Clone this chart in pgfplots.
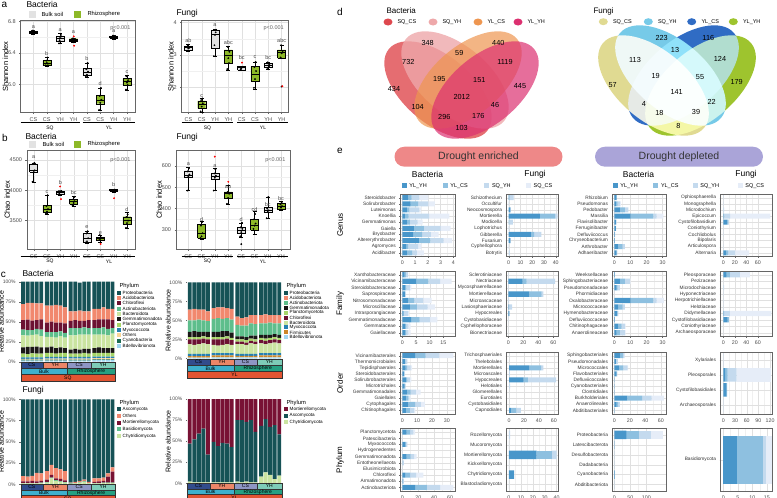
\documentclass[border=0pt]{standalone}
\usepackage{fontspec}
\setmainfont{Liberation Sans}
\usepackage{pgfplots}
\usepackage{pgfplotstable}
\pgfplotsset{compat=1.18}

\definecolor{bulk}{RGB}{226,226,226}
\definecolor{rhizo}{RGB}{141,184,40}
\definecolor{pProt}{RGB}{22,82,86}
\definecolor{pAcid}{RGB}{241,136,110}
\definecolor{pChlo}{RGB}{108,18,50}
\definecolor{pActi}{RGB}{94,190,140}
\definecolor{pBact}{RGB}{202,228,160}
\definecolor{pGemm}{RGB}{26,22,22}
\definecolor{pPlan}{RGB}{166,212,104}
\definecolor{pMyxo}{RGB}{38,128,178}
\definecolor{pOthe}{RGB}{250,214,150}
\definecolor{pCyan}{RGB}{28,108,82}
\definecolor{pBdel}{RGB}{160,214,240}
\definecolor{pFirm}{RGB}{204,134,40}
\definecolor{pMort}{RGB}{120,18,52}
\definecolor{gCS}{RGB}{50,76,140}
\definecolor{gYH}{RGB}{236,134,104}
\definecolor{gCSr}{RGB}{142,150,196}
\definecolor{gYHr}{RGB}{126,204,184}
\definecolor{gBulk}{RGB}{62,176,204}
\definecolor{gRhiz}{RGB}{38,160,130}
\definecolor{gSite}{RGB}{226,84,50}
\definecolor{vSC}{RGB}{222,72,78}
\definecolor{vSY}{RGB}{238,168,170}
\definecolor{vYC}{RGB}{238,150,80}
\definecolor{vYY}{RGB}{220,48,112}
\definecolor{fSC}{RGB}{224,218,146}
\definecolor{fSY}{RGB}{118,202,232}
\definecolor{fYC}{RGB}{48,108,196}
\definecolor{fYY}{RGB}{158,196,46}
\definecolor{eYY}{RGB}{72,150,202}
\definecolor{eYC}{RGB}{142,192,224}
\definecolor{eSY}{RGB}{196,218,238}
\definecolor{eSC}{RGB}{230,237,248}
\definecolor{pillE}{RGB}{238,136,136}
\definecolor{pillD}{RGB}{170,164,216}

\newcommand{\fs}[1]{\fontsize{#1}{#1}\selectfont}

\pgfplotsset{
  /pgf/number format/assume math mode=true,
  boxax/.style={scale only axis, clip=false,
    xtick={1,...,8}, xticklabels={CS,CS,YH,YH,CS,CS,YH,YH},
    tick label style={font=\fs{5.5}, text=black!70},
    ylabel style={font=\fs{7.5}}, ylabel shift=-7pt,
    grid=both, major grid style={black!12,line width=0.3pt},
    minor grid style={black!6,line width=0.2pt},
    minor y tick num=1,
    axis line style={black!60,line width=0.5pt},
    tick style={black!60,line width=0.3pt},
    tick align=outside, major tick length=1.5pt, minor tick length=0pt,
    xtick pos=bottom, ytick pos=left},
  cax/.style={scale only axis, ybar stacked, bar width=0.86,
    xmin=0.45, xmax=21.3, ymin=0, ymax=100, xtick=\empty,
    ytick={0,25,50,75,100}, yticklabels={0\%,25\%,50\%,75\%,100\%},
    tick label style={font=\fs{5}, text=black!70},
    ylabel style={font=\fs{7}}, ylabel shift=-8pt,
    axis line style={draw=none}, ytick pos=left,
    tick style={black!60,line width=0.3pt}, tick align=outside, major tick length=1.5pt},
  eax/.style={scale only axis, xbar stacked, bar width=0.82, y dir=reverse,
    ymin=0.4, ymax=10.6, ytick={1,...,10},
    xticklabel style={font=\fs{5.3}, text=black!70},
    yticklabel style={font=\fs{4.8}, text=black!80},
    grid=both, major grid style={black!12,line width=0.3pt},
    minor grid style={black!6,line width=0.2pt},
    minor x tick num=1,
    axis line style={black!60,line width=0.5pt},
    tick style={black!60,line width=0.3pt},
    tick align=outside, major tick length=1.2pt, minor tick length=0pt,
    xtick pos=bottom, ytick pos=left},
}

% box: position, lower whisker, lower quartile, median, upper quartile, upper whisker, colour
\newcommand{\bx}[7]{%
  \pgfmathsetmacro\bxl{#1-0.3}\pgfmathsetmacro\bxr{#1+0.3}%
  \pgfmathsetmacro\wxl{#1-0.15}\pgfmathsetmacro\wxr{#1+0.15}%
  \addplot[draw=black, line width=0.35pt] coordinates {(#1,#2) (#1,#3)};
  \addplot[draw=black, line width=0.35pt] coordinates {(#1,#5) (#1,#6)};
  \addplot[draw=black, line width=0.35pt] coordinates {(\wxl,#2) (\wxr,#2)};
  \addplot[draw=black, line width=0.35pt] coordinates {(\wxl,#6) (\wxr,#6)};
  \addplot[fill=#7, draw=black, line width=0.35pt] coordinates
    {(\bxl,#3) (\bxr,#3) (\bxr,#5) (\bxl,#5) (\bxl,#3)};
  \addplot[draw=black, line width=0.8pt] coordinates {(\bxl,#4) (\bxr,#4)};}
\newcommand{\pts}[2][black]{\addplot[only marks, mark=*, mark size=0.7pt, #1] coordinates {#2};}
\newcommand{\lt}[3]{\node[font=\fs{5.5}, text=black!70] at (axis cs:#1,#2) {#3};}
\newcommand{\ebars}[1]{%
  \addplot[fill=eYY,draw=none] table[x=a,y=y]{#1};
  \addplot[fill=eYC,draw=none] table[x=b,y=y]{#1};
  \addplot[fill=eSY,draw=none] table[x=c,y=y]{#1};
  \addplot[fill=eSC,draw=none] table[x=d,y=y]{#1};}
% facet strip: x1, x2, y1, y2, colour, text
\newcommand{\grp}[6]{\fill[#5] (#1,-#3) rectangle (#2,-#4);
  \draw[black!80,line width=0.3pt] (#1,-#3) rectangle (#2,-#4);
  \node[font=\fs{5}] at ({(#1+#2)/2},{-(#3+#4)/2}) {#6};}
% legend key: x, y, colour, text
\newcommand{\lgd}[4]{\fill[#3] (#1,-#2+2) rectangle (#1+4,-#2-2);
  \node[anchor=west, font=\fs{4.6}, inner sep=0pt] at (#1+5.5,-#2) {#4};}

% ---------------- panel c data ----------------
\pgfplotstableread{
x Bd Cy Ot My Pl Ge Ba Ac Ch Ad Pr
1 1.5 1 1 2 4.5 8 15 7 12 20 28
2 1.5 1 1 2 4 9 14 7 13 21 26.5
3 1.5 1 1 2 5 8 15 6 12 22 26.5
4 1.5 1 1 2 4.5 9 15 7 11 21 27
5 1.5 1 1 2 4.5 8 14 8 13 20 27
6.25 1.5 1 1.5 2 5 7 13 6 12 21 30
7.25 1.5 1 1.5 2 5 8 12 6 13 20 30
8.25 1.5 1 1.5 2 4 7 13 7 12 22 29
9.25 1.5 1 1.5 2 5 7 14 6 11 21 30
10.25 1.5 1 1.5 2 5 6 13 6 12 20 32
11.5 1.5 1 1.5 2 4 5 18 9 9 12 37
12.5 1.5 1 1.5 2 4 6 17 9 10 11 37
13.5 1.5 1 1.5 2 4 5 19 8 9 13 35
14.5 1.5 1 1.5 2 5 5 18 9 8 12 37
15.5 1.5 1 1.5 2 4 6 18 8 10 11 37
16.75 2 1 1.5 2 4.5 6 17 8 10 14 34
17.75 2 1 1.5 2 4.5 7 16 8 11 13 34
18.75 2 1 1.5 2 4.5 6 17 9 10 15 32
19.75 2 1 1.5 2 4.5 6 16 8 12 13 34
20.75 2 1 1.5 2 4.5 6 18 7 10 14 34
}\cBS
\pgfplotstableread{
x Bd Fi My Ba Ch Pl Ge Ac Ad Pr
1 1 2 3 13 6 3 7 15 14 36
2 1 2 3 12 7 3 8 14 15 35
3 1 2 3 13 6 3 7 16 13 36
4 1 2 3 14 6 3 6 15 14 36
5 1 2 3 13 6 3 7 14 13 38
6.25 1.5 2.5 3 11 7 3 7 17 14 34
7.25 1.5 2.5 3 10 8 3 7 18 14 33
8.25 1.5 2.5 3 11 7 3 8 16 15 33
9.25 1.5 2.5 3 12 7 3 7 17 13 34
10.25 1.5 2.5 3 11 6 3 7 17 14 35
11.5 1.5 2 2.5 13 3 3 4 15 11 45
12.5 1.5 2 2.5 13 3 3 4 14 10 47
13.5 1.5 2 2.5 12 3 3 4 15 11 46
14.5 1.5 2 2.5 14 3 3 4 16 11 43
15.5 1.5 2 2.5 13 3 3 5 15 12 43
16.75 1.5 2.5 3 13 4 3 4 15 11 43
17.75 1.5 2.5 3 12 4 3 5 15 12 42
18.75 1.5 2.5 3 13 4 3 4 16 10 43
19.75 1.5 2.5 3 14 4 3 4 14 11 43
20.75 1.5 2.5 3 13 4 3 4 15 11 43
}\cBY
\pgfplotstableread{
x Ch Ba Mo Ot As
1 1 0.5 2 6 90.5
2 1 0.5 2 5.5 91
3 1 0.5 2.5 6 90
4 1 0.5 2 10 86.5
5 1 1 2 9 87
6.25 2 0.5 3 10 84.5
7.25 7 1 3 12 77
8.25 4 1 2 12 81
9.25 3 0.5 3 11 82.5
10.25 2 0.5 2 11 84.5
11.5 0.5 0.5 0.2 0.8 98
12.5 1 0.5 0.3 1 97.2
13.5 2 0.5 0.5 1 96
14.5 3 0.5 0.5 1.5 94.5
15.5 1 0.5 0.3 1 97.2
16.75 1 0.5 1.5 4 93
17.75 1 0.5 2 3.5 93
18.75 1.5 0.5 2 4 92
19.75 1.5 0.5 7 4 87
20.75 1.5 0.5 13 5 80
}\cFS
\pgfplotstableread{
x Ch As Mo
1 2 45 53
2 1 51 48
3 1 58 41
4 1 64 35
5 1 33 66
6.25 1 48 51
7.25 1 43 56
8.25 1 47 52
9.25 1 46 53
10.25 1 42 57
11.5 2 73 25
12.5 1 74 25
13.5 2 71 27
14.5 1 74 25
15.5 1 60 39
16.75 8 60 32
17.75 13 63 24
18.75 10 57 33
19.75 5 64 31
20.75 9 49 42
}\cFY

% ---------------- panel e data ----------------
\pgfplotstableread{
y a b c d
1 0.47 0.27 0.6 0.7
2 0.65 0.6 0.8 0.5
3 0.35 0.2 0.8 0.1
4 0.2 0.3 1.6 1.6
5 0.4 0.2 0.6 0.4
6 0.9 0.8 1.3 0.8
7 0.85 0.7 0.7 0.6
8 1.3 0.9 1.05 0.65
9 0.3 0.15 0.8 0.25
10 0.4 0.4 0.35 0.55
}\tGa
\pgfplotstableread{
y a b c d
1 0.3 0.3 3.5 0.5
2 0 0 0.3 0
3 1.5 0 0.3 0
4 26.5 13 2 0.5
5 0 0.5 3 0
6 0 0 0.5 0
7 18.8 2.8 6.3 0
8 1.5 0 0.3 0
9 0 0 0.2 0
10 0 0 1 0
}\tGb
\pgfplotstableread{
y a b c d
1 1.5 0 0 0
2 1 1 1.5 0.5
3 3.5 3.1 2.1 0
4 10.2 14 2.1 4.1
5 1 0 0.5 0
6 1 0 0.2 0
7 0.3 0 0.2 0
8 0.3 0 0 0
9 2.5 2.7 1.4 0
10 1.5 0 0.4 0
}\tGc
\pgfplotstableread{
y a b c d
1 0 0 0.5 0
2 0 0 0.5 0
3 0 0 1.5 0
4 0.5 1.5 10 70
5 7 2 0.5 0
6 0 0 0.5 0
7 0 0 0.5 0
8 0 0 0.3 0
9 0 0 0.5 0
10 5.5 3 12 24.5
}\tGd
\pgfplotstableread{
y a b c d
1 0.8 0.5 0.7 0.2
2 5 4.5 4.3 4.2
3 1 0.5 1.3 0.5
4 1 0 0.2 0
5 2.2 2.2 3.3 3
6 2.8 2.5 3.9 2.8
7 0.3 0.3 1.5 0.3
8 3.2 3.1 3.9 2.6
9 1 0.5 0.7 0.8
10 1 0.5 0.7 0.8
}\tFa
\pgfplotstableread{
y a b c d
1 0 0 0.5 0
2 19 5.5 38 0
3 0 0 0.5 0
4 28 16.4 2.3 0
5 0 0 1 0
6 0.5 0.5 4 0
7 1.5 0 0.3 0
8 0 0 0.3 0
9 0 0 0.2 0
10 0 0 0.2 0
}\tFb
\pgfplotstableread{
y a b c d
1 0.3 0 0 0
2 3.5 3.1 3.1 0.5
3 1.5 0.5 1.5 0
4 0 0 0.2 0
5 10.2 14 2.1 4.5
6 2.5 2.7 1.4 0
7 1.9 0 0.6 0
8 0.3 0 0 0
9 2.5 2.1 2 0.5
10 1.5 2 3.1 0.5
}\tFc
\pgfplotstableread{
y a b c d
1 5.8 5.8 17.4 17.4
2 0 0 0.3 0
3 0 0 1.5 0
4 0 0 0.5 0
5 0 0 0.5 0
6 0 0 0.5 0
7 0.5 1 10 72
8 7.5 2.3 0.3 0
9 0 0 0.3 0
10 0 0 0.3 0
}\tFd
\pgfplotstableread{
y a b c d
1 8.6 7.2 9.2 9.5
2 1.8 0.5 1.1 0
3 2.3 1 2.3 1
4 1.1 0.3 0.4 0
5 2.5 1 1.7 1
6 1.6 0.3 0.4 0
7 3.4 2.2 3.6 3.2
8 2.5 1.6 0.6 1
9 4.1 4.5 4 2.7
10 2.5 2.7 2.7 1
}\tOa
\pgfplotstableread{
y a b c d
1 0 0 0.3 0
2 0 0 0.2 0
3 27 16 3 0
4 0 0 1 0
5 19.4 5.8 37.8 0
6 0 0 1.5 0
7 0 0 0.2 0
8 0 0 0.2 0
9 0 0 0.2 0
10 2.4 7.6 6 0
}\tOb
\pgfplotstableread{
y a b c d
1 7 4 2 0.5
2 2 0.5 2 0
3 6.5 5.1 5.7 0.5
4 3 0 1 0
5 0.5 0 0 0
6 0.3 0 0 0
7 0.3 0 0 0
8 16.8 19.2 12.3 15.7
9 3 2 2 0
10 0.3 0 0 0
}\tOc
\pgfplotstableread{
y a b c d
1 0 0 1 0
2 4.4 6.6 23 88
3 8.7 1.3 0 0
4 0 0 0.5 0
}\tOd
\pgfplotstableread{
y a b c d
1 5.5 4.2 4.2 2.1
2 0 0 0.5 0
3 3.4 1 1.9 0
4 0 0 0.3 0
5 5.5 5 4.2 3.3
6 0 0.5 1.5 0
7 0 0 0.3 0
8 3.4 6.3 7.5 9.2
9 0.5 0.5 1 0
10 16 14.7 16.7 16.8
}\tPa
\pgfplotstableread{
y a b c d
1 0 0 1 0
2 0 0 0.2 0
3 23.3 12.6 4.1 0
4 0 0 0.2 0
5 4.2 0 0.3 0
6 0 0 0.2 0
}\tPb
\pgfplotstableread{
y a b c d
1 38 39 38 38
2 1 0 0 0
3 0.5 0 0 0
4 0.3 0 0 0
5 2 0 0 0
6 0.3 0 0 0
}\tPc
\pgfplotstableread{
y a b c d
1 4.6 9.2 0.9 2
}\tPd

\begin{document}
\begin{tikzpicture}

% ================= panel a =================
\begin{scope}[x=1pt,y=1pt]
\node[font=\fs{10}] at (4.5,-5) {a};
\node[anchor=west,font=\fs{8.5}] at (23,-4.5) {Bacteria};
\fill[bulk] (28.5,-11) rectangle (35.5,-17.5);
\node[anchor=west,font=\fs{5.8}] at (38,-14.3) {Bulk soil};
\fill[rhizo] (73.5,-11) rectangle (80.5,-17.5);
\node[anchor=west,font=\fs{5.8}] at (84,-14.3) {Rhizosphere};
\node[anchor=west,font=\fs{8.5}] at (173,-13.5) {Fungi};
\end{scope}

\begin{axis}[boxax, at={(20.7pt,-20.7pt)}, anchor=north west, width=114.3pt, height=92pt,
  xmin=0.05, xmax=8.6, ymin=5.635, ymax=6.81,
  ytick={6.0,6.4,6.8}, yticklabels={6.0,6.4,6.8}, ylabel={Shannon index}]
\bx{1}{6.64}{6.65}{6.665}{6.68}{6.69}{bulk}
\bx{2}{6.23}{6.24}{6.27}{6.30}{6.34}{rhizo}
\bx{3}{6.52}{6.55}{6.586}{6.615}{6.65}{bulk}
\bx{4}{6.54}{6.545}{6.56}{6.58}{6.59}{rhizo}
\bx{5}{6.09}{6.11}{6.15}{6.20}{6.27}{bulk}
\bx{6}{5.67}{5.75}{5.79}{5.855}{5.95}{rhizo}
\bx{7}{6.58}{6.59}{6.60}{6.615}{6.63}{bulk}
\bx{8}{5.92}{5.99}{6.035}{6.07}{6.11}{rhizo}
\pts{(0.92,6.655)(1.0,6.67)(1.08,6.66)(0.96,6.685)(1.05,6.645)
 (1.92,6.24)(2.0,6.27)(2.08,6.26)(1.96,6.30)(2.05,6.34)
 (2.92,6.52)(3.0,6.59)(3.08,6.61)(2.96,6.56)(3.05,6.64)
 (3.92,6.55)(4.0,6.56)(4.08,6.575)(3.96,6.585)
 (4.92,6.10)(5.0,6.12)(5.08,6.16)(4.96,6.19)(5.05,6.27)
 (5.92,5.67)(6.0,5.76)(6.08,5.80)(5.96,5.85)(6.05,5.95)
 (6.92,6.595)(7.0,6.60)(7.08,6.61)(6.96,6.62)(7.05,6.585)
 (7.92,5.93)(8.0,6.02)(8.08,6.05)(7.96,6.10)(8.05,5.99)}
\pts[red]{(4.02,6.61)(4.05,6.49)}
\lt{1}{6.725}{a}\lt{2}{6.39}{b}\lt{3}{6.685}{a}\lt{4}{6.66}{a}
\lt{5}{6.33}{b}\lt{6}{6.01}{d}\lt{7}{6.68}{a}\lt{8}{6.15}{c}
\node[anchor=north east,font=\fs{5.5},text=black!60] at (rel axis cs:0.99,0.985) {p<0.001};
\end{axis}

\begin{axis}[boxax, at={(181.7pt,-20.7pt)}, anchor=north west, width=106.6pt, height=92pt,
  xmin=0.5, xmax=8.5, ymin=1.21, ymax=4.06,
  ytick={2,3,4}, ylabel={Shannon index}]
\bx{1}{3.12}{3.155}{3.22}{3.28}{3.33}{bulk}
\bx{2}{1.23}{1.35}{1.46}{1.575}{1.66}{rhizo}
\bx{3}{2.95}{3.21}{3.64}{3.77}{3.80}{bulk}
\bx{4}{2.54}{2.74}{2.97}{3.155}{3.26}{rhizo}
\bx{5}{2.52}{2.54}{2.60}{2.64}{2.66}{bulk}
\bx{6}{1.94}{2.195}{2.41}{2.64}{2.79}{rhizo}
\bx{7}{2.57}{2.62}{2.69}{2.74}{2.79}{bulk}
\bx{8}{2.90}{2.90}{3.07}{3.155}{3.31}{rhizo}
\pts{(0.92,3.13)(1.0,3.2)(1.08,3.25)(0.96,3.3)(1.05,3.22)
 (1.92,1.25)(2.0,1.4)(2.08,1.5)(1.96,1.6)(2.05,1.65)
 (2.92,2.96)(3.0,3.62)(3.08,3.78)(2.96,3.3)(3.05,3.7)
 (3.92,2.56)(4.0,2.9)(4.08,3.1)(3.96,3.25)(4.05,2.75)
 (4.92,2.54)(5.0,2.6)(5.08,2.63)(4.96,2.57)
 (5.92,1.98)(6.0,2.25)(6.08,2.5)(5.96,2.62)(6.05,2.78)
 (6.92,2.6)(7.0,2.68)(7.08,2.72)(6.96,2.77)(7.05,2.64)
 (7.92,2.92)(8.0,3.05)(8.08,3.12)(7.96,3.3)(8.0,2.02)}
\pts[red]{(5.03,2.76)(8.06,2.03)}
\lt{1}{3.46}{ab}\lt{2}{1.74}{c}\lt{3}{3.91}{a}\lt{4}{3.39}{abc}
\lt{5}{2.93}{bc}\lt{6}{2.93}{c}\lt{7}{2.93}{bc}\lt{8}{3.46}{abc}
\node[anchor=north east,font=\fs{5.5},text=black!60] at (rel axis cs:0.99,0.985) {p<0.001};
\end{axis}

\begin{scope}[x=1pt,y=1pt]
% group lines a
\draw[line width=0.5pt] (20.7,-122.7) -- (80,-122.7) (82.7,-122.7) -- (135,-122.7);
\draw[line width=0.5pt] (181.7,-122.7) -- (233.3,-122.7) (237.3,-122.7) -- (288.3,-122.7);
\node[font=\fs{5}] at (50,-128) {SQ};
\node[font=\fs{5}] at (109,-128) {YL};
\node[font=\fs{5}] at (207.5,-128) {SQ};
\node[font=\fs{5}] at (263,-128) {YL};
% panel b header
\node[font=\fs{10}] at (5,-137.5) {b};
\node[anchor=west,font=\fs{8.5}] at (22,-136.5) {Bacteria};
\fill[bulk] (29,-141) rectangle (36,-147.5);
\node[anchor=west,font=\fs{5.8}] at (39,-144.3) {Bulk soil};
\fill[rhizo] (73.5,-141) rectangle (80.5,-147.5);
\node[anchor=west,font=\fs{5.8}] at (84,-144.3) {Rhizosphere};
\node[anchor=west,font=\fs{8.5}] at (173,-137) {Fungi};
\end{scope}

\begin{axis}[boxax, at={(27pt,-150.7pt)}, anchor=north west, width=108pt, height=98.6pt,
  xmin=0.5, xmax=8.6, ymin=3027, ymax=4653,
  ytick={3500,4000,4500}, yticklabels={3500,4000,4500}, ylabel={Chao index}]
\bx{1}{4132}{4307}{4335}{4434}{4455}{bulk}
\bx{2}{3609}{3637}{3686}{3757}{3922}{rhizo}
\bx{3}{3922}{3939}{3967}{3993}{4010}{bulk}
\bx{4}{3741}{3768}{3812}{3851}{3895}{rhizo}
\bx{5}{3136}{3152}{3208}{3290}{3329}{bulk}
\bx{6}{3140}{3180}{3200}{3225}{3262}{rhizo}
\bx{7}{3975}{3988}{3998}{4016}{4025}{bulk}
\bx{8}{3373}{3444}{3498}{3565}{3647}{rhizo}
\pts{(0.92,4140)(1.0,4320)(1.08,4330)(0.96,4440)(1.05,4450)
 (1.92,3615)(2.0,3650)(2.08,3690)(1.96,3740)(2.05,3920)
 (2.92,3940)(3.0,3970)(3.08,3990)
 (3.92,3745)(4.0,3790)(4.08,3820)(3.96,3850)(4.05,3890)
 (4.92,3140)(5.0,3160)(5.08,3210)(4.96,3290)(5.05,3325)
 (5.92,3180)(6.0,3200)(6.08,3220)(5.96,3262)
 (6.92,3990)(7.0,4000)(7.08,4010)
 (7.92,3380)(8.0,3460)(8.08,3500)(7.96,3560)(8.05,3600)}
\pts[red]{(2.98,4063)(3.05,3855)(6.02,3114)(7.03,3870)}
\lt{1}{4545}{a}\lt{2}{3977}{c}\lt{3}{4130}{b}\lt{4}{3960}{bc}
\lt{5}{3390}{e}\lt{6}{3300}{e}\lt{7}{4090}{b}\lt{8}{3690}{d}
\node[anchor=north east,font=\fs{5.5},text=black!60] at (rel axis cs:0.99,0.97) {p<0.001};
\end{axis}

\begin{axis}[boxax, at={(176pt,-150.7pt)}, anchor=north west, width=114pt, height=98.6pt,
  xmin=0.07, xmax=8.68, ymin=209, ymax=672,
  ytick={300,400,500,600}, ylabel={Chao index}]
\bx{1}{485}{547}{556}{578}{597}{bulk}
\bx{2}{255}{262}{282}{325}{340}{rhizo}
\bx{3}{485}{539}{553}{566}{589}{bulk}
\bx{4}{420}{448}{472}{479}{511}{rhizo}
\bx{5}{266}{284}{300}{312}{334}{bulk}
\bx{6}{281}{300}{323}{350}{386}{rhizo}
\bx{7}{355}{383}{390}{405}{455}{bulk}
\bx{8}{394}{397}{410}{425}{433}{rhizo}
\pts{(0.92,485)(1.0,550)(1.08,560)(0.96,575)(1.05,590)
 (1.92,262)(2.0,270)(2.08,285)(1.96,320)(2.05,338)
 (2.92,485)(3.0,545)(3.08,555)(2.96,565)(3.05,585)
 (3.92,422)(4.0,450)(4.08,470)(3.96,478)(4.05,508)
 (4.92,270)(5.0,290)(5.08,305)(4.96,312)(5.05,334)(5.0,233)
 (5.92,305)(6.0,320)(6.08,330)(5.96,350)(6.05,375)
 (6.92,355)(7.0,385)(7.08,392)(6.96,400)(7.05,455)
 (7.92,395)(8.0,405)(8.08,412)(7.96,420)(8.05,430)}
\pts[red]{(3.0,644)(4.02,526)}
\lt{1}{609}{a}\lt{2}{350}{d}\lt{3}{598}{a}\lt{4}{506}{ab}
\lt{5}{350}{d}\lt{6}{396}{cd}\lt{7}{420}{bc}\lt{8}{446}{bc}
\node[anchor=north east,font=\fs{5.5},text=black!60] at (rel axis cs:0.99,0.97) {p<0.001};
\end{axis}

\begin{scope}[x=1pt,y=1pt]
\draw[line width=0.5pt] (20.7,-256.3) -- (80,-256.3) (82.7,-256.3) -- (135,-256.3);
\draw[line width=0.5pt] (181.7,-256.3) -- (233.3,-256.3) (237.3,-256.3) -- (288.3,-256.3);
\node[font=\fs{5}] at (50,-261.5) {SQ};
\node[font=\fs{5}] at (109,-261.5) {YL};
\node[font=\fs{5}] at (207.5,-261.5) {SQ};
\node[font=\fs{5}] at (263,-261.5) {YL};
% panel c headers
\node[font=\fs{10}] at (3.5,-274.5) {c};
\node[anchor=west,font=\fs{8.5}] at (19,-273) {Bacteria};
\node[anchor=west,font=\fs{8.5}] at (19,-390.5) {Fungi};
\end{scope}

% ================= panel c =================
\begin{axis}[cax, at={(20.7pt,-281.7pt)}, anchor=north west, width=94.3pt, height=80pt, ylabel={Relative abundance}]
\addplot[fill=pBdel,draw=none] table[x=x,y=Bd]{\cBS};
\addplot[fill=pCyan,draw=none] table[x=x,y=Cy]{\cBS};
\addplot[fill=pOthe,draw=none] table[x=x,y=Ot]{\cBS};
\addplot[fill=pMyxo,draw=none] table[x=x,y=My]{\cBS};
\addplot[fill=pPlan,draw=none] table[x=x,y=Pl]{\cBS};
\addplot[fill=pGemm,draw=none] table[x=x,y=Ge]{\cBS};
\addplot[fill=pBact,draw=none] table[x=x,y=Ba]{\cBS};
\addplot[fill=pActi,draw=none] table[x=x,y=Ac]{\cBS};
\addplot[fill=pChlo,draw=none] table[x=x,y=Ch]{\cBS};
\addplot[fill=pAcid,draw=none] table[x=x,y=Ad]{\cBS};
\addplot[fill=pProt,draw=none] table[x=x,y=Pr]{\cBS};
\end{axis}

\begin{axis}[cax, at={(187.3pt,-282.3pt)}, anchor=north west, width=94.4pt, height=76.2pt, ylabel={Relative abundance}]
\addplot[fill=pBdel,draw=none] table[x=x,y=Bd]{\cBY};
\addplot[fill=pFirm,draw=none] table[x=x,y=Fi]{\cBY};
\addplot[fill=pMyxo,draw=none] table[x=x,y=My]{\cBY};
\addplot[fill=pBact,draw=none] table[x=x,y=Ba]{\cBY};
\addplot[fill=pChlo,draw=none] table[x=x,y=Ch]{\cBY};
\addplot[fill=pPlan,draw=none] table[x=x,y=Pl]{\cBY};
\addplot[fill=pGemm,draw=none] table[x=x,y=Ge]{\cBY};
\addplot[fill=pActi,draw=none] table[x=x,y=Ac]{\cBY};
\addplot[fill=pAcid,draw=none] table[x=x,y=Ad]{\cBY};
\addplot[fill=pProt,draw=none] table[x=x,y=Pr]{\cBY};
\end{axis}

\begin{axis}[cax, at={(20.7pt,-399.3pt)}, anchor=north west, width=94.3pt, height=85pt, ylabel={Relative abundance}]
\addplot[fill=pBact,draw=none] table[x=x,y=Ch]{\cFS};
\addplot[fill=pActi,draw=none] table[x=x,y=Ba]{\cFS};
\addplot[fill=pMort,draw=none] table[x=x,y=Mo]{\cFS};
\addplot[fill=pAcid,draw=none] table[x=x,y=Ot]{\cFS};
\addplot[fill=pProt,draw=none] table[x=x,y=As]{\cFS};
\end{axis}

\begin{axis}[cax, at={(187.3pt,-399pt)}, anchor=north west, width=94.4pt, height=84.3pt, ylabel={Relative abundance}]
\addplot[fill=pBact,draw=none] table[x=x,y=Ch]{\cFY};
\addplot[fill=pProt,draw=none] table[x=x,y=As]{\cFY};
\addplot[fill=pMort,draw=none] table[x=x,y=Mo]{\cFY};
\end{axis}

\begin{scope}[x=1pt,y=1pt]
% facet strips
\grp{20.7}{43}{362}{368}{gCS}{CS}\grp{43}{67.3}{362}{368}{gYH}{YH}
\grp{67.3}{91}{362}{368}{gCSr}{CS}\grp{91}{115}{362}{368}{gYHr}{YH}
\grp{20.7}{67.3}{368}{374.5}{gBulk}{Bulk}\grp{67.3}{115}{368}{374.5}{gRhiz}{Rhizosphere}
\grp{20.7}{115}{374.5}{381}{gSite}{SQ}
\grp{187.3}{209.7}{359}{365}{gCS}{CS}\grp{209.7}{233.8}{359}{365}{gYH}{YH}
\grp{233.8}{257}{359}{365}{gCSr}{CS}\grp{257}{281.7}{359}{365}{gYHr}{YH}
\grp{187.3}{233.8}{365}{371.5}{gBulk}{Bulk}\grp{233.8}{281.7}{365}{371.5}{gRhiz}{Rhizosphere}
\grp{187.3}{281.7}{371.5}{378}{gSite}{YL}
\grp{20.7}{43}{484.5}{490}{gCS}{CS}\grp{43}{67.3}{484.5}{490}{gYH}{YH}
\grp{67.3}{91}{484.5}{490}{gCSr}{CS}\grp{91}{115}{484.5}{490}{gYHr}{YH}
\grp{20.7}{67.3}{490}{495.5}{gBulk}{Bulk}\grp{67.3}{115}{490}{495.5}{gRhiz}{Rhizosphere}
\grp{20.7}{115}{495.5}{502}{gSite}{SQ}
\grp{187.3}{209.7}{483.5}{489}{gCS}{CS}\grp{209.7}{233.8}{483.5}{489}{gYH}{YH}
\grp{233.8}{257}{483.5}{489}{gCSr}{CS}\grp{257}{281.7}{483.5}{489}{gYHr}{YH}
\grp{187.3}{233.8}{489}{494.5}{gBulk}{Bulk}\grp{233.8}{281.7}{489}{494.5}{gRhiz}{Rhizosphere}
\grp{187.3}{281.7}{494.5}{501}{gSite}{YL}

% legends c
\node[anchor=west,font=\fs{5.8}] at (116,-285.5) {Phylum};
\lgd{117}{292.7}{pProt}{Proteobacteria}
\lgd{117}{298}{pAcid}{Acidobacteriota}
\lgd{117}{303.3}{pChlo}{Chloroflexi}
\lgd{117}{308.7}{pActi}{Actinobacteriota}
\lgd{117}{314}{pBact}{Bacteroidota}
\lgd{117}{319.3}{pGemm}{Gemmatimonadota}
\lgd{117}{324.7}{pPlan}{Planctomycetota}
\lgd{117}{330}{pMyxo}{Myxococcota}
\lgd{117}{335.3}{pOthe}{Others}
\lgd{117}{340.7}{pCyan}{Cyanobacteria}
\lgd{117}{346}{pBdel}{Bdellovibrionota}
\node[anchor=west,font=\fs{5.8}] at (283,-285.5) {Phylum};
\lgd{284}{292.7}{pProt}{Proteobacteria}
\lgd{284}{297.7}{pAcid}{Acidobacteriota}
\lgd{284}{302.6}{pActi}{Actinobacteriota}
\lgd{284}{307.6}{pGemm}{Gemmatimonadota}
\lgd{284}{312.5}{pPlan}{Planctomycetota}
\lgd{284}{317.5}{pChlo}{Chloroflexi}
\lgd{284}{322.5}{pBact}{Bacteroidota}
\lgd{284}{327.4}{pMyxo}{Myxococcota}
\lgd{284}{332.4}{pFirm}{Firmicutes}
\lgd{284}{337.3}{pBdel}{Bdellovibrionota}
\node[anchor=west,font=\fs{5.8}] at (116,-402.5) {Phylum};
\lgd{117}{409.3}{pProt}{Ascomycota}
\lgd{117}{416}{pAcid}{Others}
\lgd{117}{422.7}{pMort}{Mortierellomycota}
\lgd{117}{429.4}{pActi}{Basidiomycota}
\lgd{117}{436.1}{pBact}{Chytridiomycota}
\node[anchor=west,font=\fs{5.8}] at (283,-402.5) {Phylum};
\lgd{284}{409.3}{pMort}{Mortierellomycota}
\lgd{284}{415.8}{pProt}{Ascomycota}
\lgd{284}{422.3}{pBact}{Chytridiomycota}
\node[font=\fs{10}] at (340,-12) {d};
\end{scope}

% ================= panel d =================
\begin{axis}[hide axis, scale only axis, clip=false, at={(370pt,0pt)}, anchor=north west,
  width=400pt, height=150pt, xmin=370, xmax=770, ymin=-150, ymax=0, disabledatascaling]
\node[anchor=west,font=\fs{8}] at (axis cs:383,-11) {Bacteria};
\fill[vSC] (axis cs:388,-22) ellipse [x radius=4.5pt, y radius=3.5pt];
\fill[vSY] (axis cs:433,-22) ellipse [x radius=4.5pt, y radius=3.5pt];
\fill[vYC] (axis cs:478,-22) ellipse [x radius=4.5pt, y radius=3.5pt];
\fill[vYY] (axis cs:518,-22) ellipse [x radius=4.5pt, y radius=3.5pt];
\node[anchor=west,font=\fs{5.5}] at (axis cs:394,-22) {SQ\_CS};
\node[anchor=west,font=\fs{5.5}] at (axis cs:439,-22) {SQ\_YH};
\node[anchor=west,font=\fs{5.5}] at (axis cs:484,-22) {YL\_CS};
\node[anchor=west,font=\fs{5.5}] at (axis cs:524,-22) {YL\_YH};
\fill[vSC, fill opacity=0.8, rotate around={-40:(axis cs:438,-90)}] (axis cs:438,-90) ellipse [x radius=64pt, y radius=34pt];
\fill[vSY, fill opacity=0.8, rotate around={-40:(axis cs:455,-80)}] (axis cs:455,-80) ellipse [x radius=64pt, y radius=34pt];
\fill[vYC, fill opacity=0.7, rotate around={40:(axis cs:468,-80)}] (axis cs:468,-80) ellipse [x radius=64pt, y radius=34pt];
\fill[vYY, fill opacity=0.7, rotate around={40:(axis cs:485,-90)}] (axis cs:485,-90) ellipse [x radius=64pt, y radius=34pt];
\begin{scope}[font=\fs{7.3}]
\node at (axis cs:427.7,-42.7) {348};
\node at (axis cs:498.3,-42.7) {440};
\node at (axis cs:408.3,-62) {732};
\node at (axis cs:459.3,-53.3) {59};
\node at (axis cs:505,-62) {1119};
\node at (axis cs:439.3,-78.7) {195};
\node at (axis cs:479.3,-80.3) {151};
\node at (axis cs:394,-89) {434};
\node at (axis cs:520,-85.7) {445};
\node at (axis cs:461.7,-97.3) {2012};
\node at (axis cs:417.7,-107.3) {104};
\node at (axis cs:495,-105.3) {46};
\node at (axis cs:444.3,-116.7) {296};
\node at (axis cs:478.3,-115.7) {176};
\node at (axis cs:461.7,-127.7) {103};
\end{scope}

\node[anchor=west,font=\fs{8}] at (axis cs:590,-11.5) {Fungi};
\fill[fSC] (axis cs:603.3,-21.7) ellipse [x radius=4.5pt, y radius=3.5pt];
\fill[fSY] (axis cs:648.3,-21.7) ellipse [x radius=4.5pt, y radius=3.5pt];
\fill[fYC] (axis cs:691.7,-21.7) ellipse [x radius=4.5pt, y radius=3.5pt];
\fill[fYY] (axis cs:733.3,-21.7) ellipse [x radius=4.5pt, y radius=3.5pt];
\node[anchor=west,font=\fs{5.5}] at (axis cs:609.5,-21.7) {SQ\_CS};
\node[anchor=west,font=\fs{5.5}] at (axis cs:654.5,-21.7) {SQ\_YH};
\node[anchor=west,font=\fs{5.5}] at (axis cs:698,-21.7) {YL\_CS};
\node[anchor=west,font=\fs{5.5}] at (axis cs:739.5,-21.7) {YL\_YH};
\begin{scope}[blend group=screen]
\fill[fSC, rotate around={-40:(axis cs:653.5,-85.5)}] (axis cs:653.5,-85.5) ellipse [x radius=66pt, y radius=35pt];
\fill[fSY, rotate around={-40:(axis cs:670.5,-75.5)}] (axis cs:670.5,-75.5) ellipse [x radius=66pt, y radius=35pt];
\fill[fYC, rotate around={40:(axis cs:683.5,-75.5)}] (axis cs:683.5,-75.5) ellipse [x radius=66pt, y radius=35pt];
\fill[fYY, rotate around={40:(axis cs:700.5,-85.5)}] (axis cs:700.5,-85.5) ellipse [x radius=66pt, y radius=35pt];
\end{scope}
\begin{scope}[font=\fs{7.3}]
\node at (axis cs:661.7,-38.3) {223};
\node at (axis cs:708.3,-38.3) {116};
\node at (axis cs:675,-50) {13};
\node at (axis cs:635,-60) {113};
\node at (axis cs:720,-59) {124};
\node at (axis cs:655.7,-75.7) {19};
\node at (axis cs:700,-76.7) {55};
\node at (axis cs:612.7,-85) {57};
\node at (axis cs:736.7,-81.7) {179};
\node at (axis cs:676.7,-92.3) {141};
\node at (axis cs:644,-104) {4};
\node at (axis cs:711.7,-101.7) {22};
\node at (axis cs:659.3,-113.3) {18};
\node at (axis cs:696,-112) {39};
\node at (axis cs:678.3,-125.7) {8};
\end{scope}
\end{axis}

% ================= panel e =================
\begin{scope}[x=1pt,y=1pt]
\node[font=\fs{10}] at (340,-151) {e};
\node[fill=pillE, rounded corners=10pt, minimum width=168pt, minimum height=20pt,
  font=\fs{10.5}, text=black!80] at (478.5,-156.7) {Drought enriched};
\node[fill=pillD, rounded corners=10pt, minimum width=168pt, minimum height=20pt,
  font=\fs{10.5}, text=black!80] at (679,-156.7) {Drought depleted};
\node[font=\fs{8.5}] at (427.5,-174) {Bacteria};
\node[font=\fs{8.5}] at (535,-174) {Fungi};
\node[font=\fs{8.5}] at (638.5,-174) {Bacteria};
\node[font=\fs{8.5}] at (746,-174) {Fungi};
\foreach \xx/\cc/\tt in {401.7/eYY/YL\_YH, 442.7/eYC/YL\_CS, 484.3/eSY/SQ\_YH, 526/eSC/SQ\_CS,
  612.7/eYY/YL\_YH, 653.3/eYC/YL\_CS, 692.7/eSY/SQ\_YH, 737.7/eSC/SQ\_CS}{
  \fill[\cc] (\xx,-183.3) rectangle (\xx+4.8,-188.1);
  \node[anchor=west,font=\fs{5.5},inner sep=0pt] at (\xx+7.5,-185.7) {\tt};}
\node[rotate=90,font=\fs{8}] at (340,-225.2) {Genus};
\node[rotate=90,font=\fs{8}] at (340,-303.7) {Family};
\node[rotate=90,font=\fs{8}] at (340,-383) {Order};
\node[rotate=90,font=\fs{8}] at (340,-459.7) {Phylum};
\end{scope}

% Genus
\begin{axis}[eax, at={(400.5pt,-194pt)}, anchor=north west, width=55.2pt, height=62.5pt,
  xmin=-0.14, xmax=4.19, xtick={0,1,2,3,4},
  yticklabels={Steroidobacter,Solirubrobacter,Luteimonas,Knoellia,Gemmatimonas,Gaiella,Bryobacter,Altererythrobacter,Agromyces,Acidibacter}]
\ebars{\tGa}
\end{axis}
\begin{axis}[eax, at={(506.7pt,-194pt)}, anchor=north west, width=51.6pt, height=62.5pt,
  xmin=-1.7, xmax=42.2, xtick={0,10,20,30,40},
  yticklabels={Schizothecium,Occultifur,Neocosmospora,Mortierella,Modicella,Lophotrichus,Gibberella,Fusarium,Cyphellophora,Botrytis}]
\ebars{\tGb}
\end{axis}
\begin{axis}[eax, at={(612.7pt,-194pt)}, anchor=north west, width=53.3pt, height=62.5pt,
  xmin=-1, xmax=32.1, xtick={0,10,20,30},
  yticklabels={Rhizobium,Pseudomonas,Pedobacter,Massilia,Flavisolibacter,Ferruginibacter,Defluviicoccus,Chryseobacterium,Arthrobacter,Adhaeribacter}]
\ebars{\tGc}
\end{axis}
\begin{axis}[eax, at={(720.7pt,-194pt)}, anchor=north west, width=52pt, height=62.5pt,
  xmin=-4.5, xmax=86, xtick={0,20,40,60},
  yticklabels={Ophiosphaerella,Monographella,Microdochium,Epicoccum,Cystofilobasidium,Coniothyrium,Cochliobolus,Bipolaris,Articulospora,Alternaria}]
\ebars{\tGd}
\end{axis}

% Family
\begin{axis}[eax, at={(400.5pt,-271pt)}, anchor=north west, width=55.2pt, height=65.5pt,
  xmin=-0.66, xmax=19.5, xtick={0,5,10,15},
  yticklabels={Xanthobacteraceae,Vicinamibacteraceae,Steroidobacteraceae,Saprospiraceae,Nitrosomonadaceae,Microscillaceae,Intrasporangiaceae,Gemmatimonadaceae,Gemmataceae,Gaiellaceae}]
\ebars{\tFa}
\end{axis}
\begin{axis}[eax, at={(506.7pt,-271pt)}, anchor=north west, width=51.6pt, height=65.5pt,
  xmin=-2.1, xmax=66.7, xtick={0,20,40,60},
  yticklabels={Sclerotiniaceae,Nectriaceae,Mycosphaerellaceae,Mortierellaceae,Microascaceae,Lasiosphaeriaceae,Hypocreales,Cystobasidiaceae,Cyphellophoraceae,Bionectriaceae}]
\ebars{\tFb}
\end{axis}
\begin{axis}[eax, at={(612.7pt,-271pt)}, anchor=north west, width=53.3pt, height=65.5pt,
  xmin=-1, xmax=32.1, xtick={0,10,20,30},
  yticklabels={Weeksellaceae,Sphingobacteriaceae,Pseudomonadaceae,Phormidiaceae,Oxalobacteraceae,Micrococcaceae,Hymenobacteraceae,Defluviicoccaceae,Chitinophagaceae,Anaerolineaceae}]
\ebars{\tFc}
\end{axis}
\begin{axis}[eax, at={(720.7pt,-271pt)}, anchor=north west, width=52pt, height=65.5pt,
  xmin=-4.5, xmax=86, xtick={0,20,40,60},
  yticklabels={Pleosporaceae,Pezizaceae,Microdochiaceae,Hyponectriaceae,Herpotrichiellaceae,Helotiaceae,Didymellaceae,Cystofilobasidiaceae,Coniothyriaceae,Archaeosporaceae}]
\ebars{\tFd}
\end{axis}

% Order
\begin{axis}[eax, at={(400.5pt,-352pt)}, anchor=north west, width=55.2pt, height=62pt,
  xmin=-1.2, xmax=36, xtick={0,10,20,30},
  yticklabels={Vicinamibacterales,Thermomicrobiales,Tepidisphaerales,Steroidobacterales,Solirubrobacterales,Microtrichales,Gemmatimonadales,Gaiellales,Cytophagales,Chitinophagales}]
\ebars{\tOa}
\end{axis}
\begin{axis}[eax, at={(506.7pt,-352pt)}, anchor=north west, width=51.6pt, height=62pt,
  xmin=-3.1, xmax=66, xtick={0,20,40,60},
  yticklabels={Trichosphaeriales,Thelebolales,Mortierellales,Microascales,Hypocreales,Helotiales,Glomerellales,Eurotiales,Cystobasidiales,Capnodiales}]
\ebars{\tOb}
\end{axis}
\begin{axis}[eax, at={(612.7pt,-352pt)}, anchor=north west, width=53.3pt, height=62pt,
  xmin=-2.1, xmax=66.7, xtick={0,20,40,60},
  yticklabels={Sphingobacteriales,Pseudomonadales,Micrococcales,Flavobacteriales,Defluviicoccales,Cyanobacteriales,Clostridiales,Burkholderiales,Anaerolineales,Abditibacteriales}]
\ebars{\tOc}
\end{axis}
\begin{axis}[eax, at={(720.7pt,-352pt)}, anchor=north west, width=52pt, height=62pt,
  xmin=-6.7, xmax=126.7, xtick={0,30,60,90,120}, ytick={1,...,4}, ymin=0.47, ymax=4.6, bar width=0.9,
  yticklabels={Xylariales,Pleosporales,Cystofilobasidiales,Archaeosporales}]
\ebars{\tOd}
\end{axis}

% Phylum
\begin{axis}[eax, at={(400.5pt,-428.5pt)}, anchor=north west, width=55.2pt, height=62.5pt,
  xmin=-2.3, xmax=67, xtick={0,20,40,60},
  yticklabels={Planctomycetota,Patescibacteria,Myxococcota,Hydrogenedentes,Gemmatimonadota,Entotheonellaeota,Elusimicrobiota,Chloroflexi,Armatimonadota,Actinobacteriota}]
\ebars{\tPa}
\end{axis}
\begin{axis}[eax, at={(506.7pt,-428.5pt)}, anchor=north west, width=51.6pt, height=62.5pt,
  xmin=-1.9, xmax=41.4, xtick={0,10,20,30,40}, ytick={1,...,6}, ymin=0.35, ymax=6.65, bar width=0.85,
  yticklabels={Rozellomycota,Mucoromycota,Mortierellomycota,Kickxellomycota,Chytridiomycota,Blastocladiomycota}]
\ebars{\tPb}
\end{axis}
\begin{axis}[eax, at={(612.7pt,-428.5pt)}, anchor=north west, width=53.3pt, height=62.5pt,
  xmin=-4.9, xmax=161, xtick={0,50,100}, ytick={1,...,6}, ymin=0.35, ymax=6.65, bar width=0.85,
  yticklabels={Proteobacteria,Latescibacterota,Desulfobacterota,Dadabacteria,Cyanobacteria,Abditibacteriota}]
\ebars{\tPc}
\end{axis}
\begin{axis}[eax, at={(720.7pt,-428.5pt)}, anchor=north west, width=52pt, height=62.5pt,
  xmin=-0.9, xmax=17, xtick={0,5,10,15}, ytick={1}, ymin=0.4, ymax=1.6, bar width=0.92,
  yticklabels={Basidiomycota}]
\ebars{\tPd}
\end{axis}

\pgfresetboundingbox
\path[use as bounding box] (0pt,0pt) rectangle (777pt,-498pt);
\end{tikzpicture}
\end{document}
